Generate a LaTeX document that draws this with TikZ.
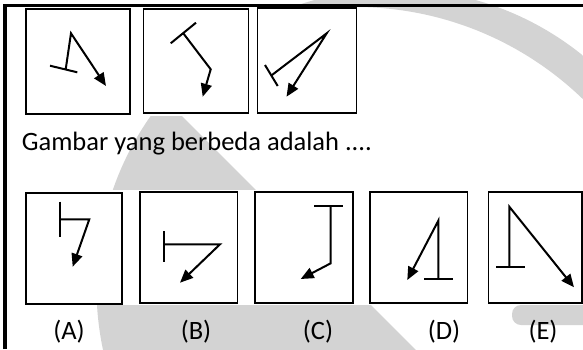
\documentclass[tikz,border=0pt]{standalone}
\usepackage{fontspec}
\setmainfont{Carlito}
\usepackage{tikz}
\usetikzlibrary{arrows.meta}
\definecolor{WmGrey}{RGB}{211,211,211}
\tikzset{
  frame/.style={line width=3.7pt, black},
  pbox/.style={draw, line width=1.7pt, fill=white, inner sep=0pt},
  bar/.style={line width=2pt},
  arr/.style={-{Triangle[length=13pt, width=11pt]}, line width=2pt},
  wm/.style={fill=WmGrey},
  lab/.style={font=\fontsize{26.5}{30}\selectfont, anchor=base, inner sep=0pt},
}

\begin{document}
\begin{tikzpicture}[x=1pt, y=-1pt]
  \useasboundingbox (0,0) rectangle (583,349);
  % watermark
  \begin{scope}
    \clip (395,287.5) circle[radius=298.5pt];
    \fill[wm, even odd rule] (0,-10) rectangle (600,360) (355,335) circle[radius=328pt];
    \fill[wm] (0,100) -- (166,100) -- (425,359) -- (0,359) -- cycle;
  \end{scope}
  \fill[wm, rounded corners=9pt] (512,305) rectangle (600,325);
  \fill[white] (20,7.5) rectangle (357.5,116);
  \fill[white] (20,190) rectangle (583,304.5);
  \draw[frame] (5.2,349) -- (5.2,5.5) -- (583,5.5);

  % soal
  \node[pbox, minimum width=104pt, minimum height=105pt] (soal1) at (78,61.8) {};
  \node[pbox, minimum width=105pt, minimum height=104pt] (soal2) at (196,61.2) {};
  \node[pbox, minimum width=99pt, minimum height=105pt] (soal3) at (307,60.7) {};
  \draw[bar] (50,65.7) -- (77.3,72.3);
  \draw[arr] (65.7,69.3) -- (71,33.3) -- (106,86);
  \draw[bar] (170.7,43.3) -- (196,22.7);
  \draw[arr] (183.3,33.3) -- (210.7,69.3) -- (202.7,96.7);
  \draw[bar] (265,65) -- (277.7,86);
  \draw[arr] (271.3,75.5) -- (326.7,33.3) -- (286.5,96.7);

  \node[lab, anchor=base west] (tanya) at (21.7,150) {Gambar yang berbeda adalah ....};

  % pilihan
  \node[pbox, minimum width=95.7pt, minimum height=111pt] (optA) at (73.8,248.3) {};
  \node[pbox, minimum width=97.3pt, minimum height=111pt] (optB) at (188.7,247.8) {};
  \node[pbox, minimum width=97.5pt, minimum height=111pt] (optC) at (304,247.5) {};
  \node[pbox, minimum width=97.3pt, minimum height=111pt] (optD) at (418.7,247.5) {};
  \node[pbox, minimum width=93.7pt, minimum height=111pt] (optE) at (535.2,247.5) {};
  \draw[bar] (60,201.7) -- (60,236.7);
  \draw[arr] (60,219.3) -- (89.3,219.3) -- (72.7,266.7);
  \draw[bar] (164.3,231) -- (164.3,262.3);
  \draw[arr] (164.3,244.3) -- (220,244.3) -- (180,282.7);
  \draw[bar] (314,206) -- (343.3,206);
  \draw[arr] (330.7,206) -- (330.7,263.3) -- (300.7,279);
  \draw[bar] (424,278.7) -- (453.3,278.7);
  \draw[arr] (438.3,278.7) -- (438.3,220.7) -- (407.3,280);
  \draw[bar] (496,266.7) -- (525,266.7);
  \draw[arr] (509.3,266.7) -- (509.3,206.7) -- (574,287.3);

  \node[lab] (labA) at (69,339) {(A)};
  \node[lab] (labB) at (196,339) {(B)};
  \node[lab] (labC) at (318,339) {(C)};
  \node[lab] (labD) at (444,339) {(D)};
  \node[lab] (labE) at (543,339) {(E)};
\end{tikzpicture}
\end{document}
